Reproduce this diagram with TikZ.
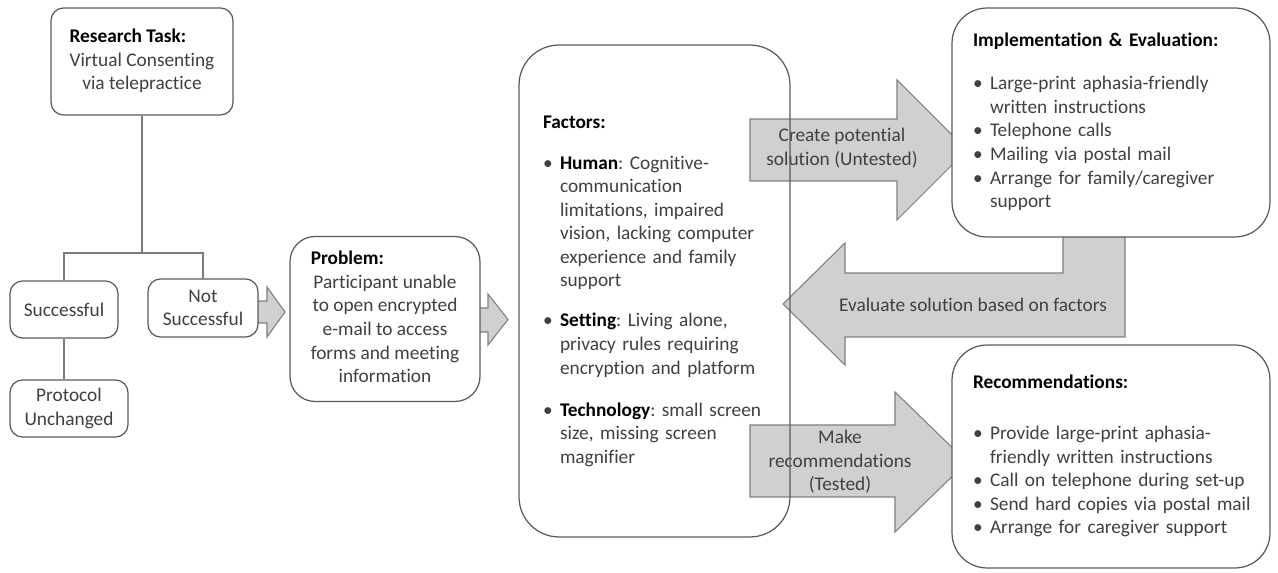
\documentclass[tikz,border=0pt]{standalone}
\usepackage{fontspec}
\setmainfont{Carlito}[Ligatures=NoCommon]
\usetikzlibrary{positioning}
\frenchspacing

\definecolor{boxline}{HTML}{5A5A5A}
\definecolor{linegray}{HTML}{7A7A7A}
\definecolor{arrowfill}{HTML}{D0D0D0}
\definecolor{arrowline}{HTML}{7F7F7F}
\definecolor{bodytext}{HTML}{404040}

\newcommand{\ttl}[1]{\textcolor{black}{\textbf{#1}}}
\newcommand{\bul}{\makebox[0.34cm][l]{\textbullet}}

\tikzset{
  box/.style={draw=boxline, line width=0.7pt, fill=white, rounded corners=0.25cm, align=center, inner sep=0pt},
  bigarrow/.style={draw=arrowline, line width=0.6pt, fill=arrowfill},
  link/.style={draw=linegray, line width=0.7pt},
}

\begin{document}
\begin{tikzpicture}[x=0.02cm, y=-0.02cm, every node/.style={font=\fontsize{11}{13.4}\selectfont, text=bodytext}]
\useasboundingbox (0,0) rectangle (1278,573);

% block arrows, behind the boxes
\draw[bigarrow](250,301)--(267,301)--(267,287)--(285,312)--(267,337)--(267,323)--(250,323)--cycle;
\draw[bigarrow](470,308)--(488,308)--(488,294)--(508,319.5)--(488,345)--(488,332)--(470,332)--cycle;
\draw[bigarrow](750,119)--(897,119)--(897,80)--(967,150)--(897,220)--(897,181)--(750,181)--cycle;
\draw[bigarrow](750,425)--(895,425)--(895,392)--(967,462)--(895,532)--(895,497)--(750,497)--cycle;
\draw[bigarrow](1063,225)--(1063,273)--(845,273)--(845,243)--(783,304)--(845,365)--(845,337)--(1125,337)--(1125,225)--cycle;

\node[align=center] (createtxt) at (842,148) {Create potential\\solution (Untested)};
\node[align=center] (maketxt) at (840,462) {Make\\recommendations\\(Tested)};
\node (evaltxt) at (973,305) {Evaluate solution based on factors};

% boxes
\node[box, minimum width=3.64cm, minimum height=2.14cm] (task) at (142,61.5) {\begin{tabular}{@{}c@{}}
\multicolumn{1}{@{}l@{}}{\ttl{Research Task:}}\\
Virtual Consenting\\
via telepractice
\end{tabular}};

\node[box, minimum width=2.16cm, minimum height=1.14cm] (success) at (64,309.5) {Successful};
\node[box, minimum width=2.2cm, minimum height=1.16cm] (fail) at (203,308) {Not\\Successful};
\node[box, minimum width=2.36cm, minimum height=1.14cm] (unchanged) at (69,408.5) {Protocol\\Unchanged};

\node[box, rounded corners=0.5cm, minimum width=3.8cm, minimum height=3.3cm] (problem) at (385,319) {\begin{tabular}{@{}c@{}}
\multicolumn{1}{@{}l@{}}{\ttl{Problem:}}\\
Participant unable\\
to open encrypted\\
e-mail to access\\
forms and meeting\\
information
\end{tabular}};

\node[box, fill=none, rounded corners=0.8cm, minimum width=5.42cm, minimum height=9.84cm, text width=4.46cm, align=left] (factors) at (654.5,291) {\begin{tabular}{@{}l@{}l@{}}
\multicolumn{2}{@{}l@{}}{\ttl{Factors:}}\\[0.35cm]
\bul & \ttl{Human}: Cognitive-\\
 & communication\\
 & limitations, impaired\\
 & vision, lacking computer\\
 & experience and family\\
 & support\\[0.33cm]
\bul & \ttl{Setting}: Living alone,\\
 & privacy rules requiring\\
 & encryption and platform\\[0.37cm]
\bul & \ttl{Technology}: small screen\\
 & size, missing screen\\
 & magnifier
\end{tabular}};

\node[box, rounded corners=0.7cm, minimum width=6.36cm, minimum height=4.58cm, text width=5.52cm, align=left] (impl) at (1111,122.5) {\begin{tabular}{@{}l@{}l@{}}
\multicolumn{2}{@{}l@{}}{\ttl{Implementation \& Evaluation:}}\\[0.39cm]
\bul & Large-print aphasia-friendly\\
 & written instructions\\
\bul & Telephone calls\\
\bul & Mailing via postal mail\\
\bul & Arrange for family/caregiver\\
 & support
\end{tabular}};

\node[box, rounded corners=0.7cm, minimum width=6.36cm, minimum height=4.46cm, text width=5.52cm, align=left] (recom) at (1111,456.5) {\begin{tabular}{@{}l@{}l@{}}
\multicolumn{2}{@{}l@{}}{\ttl{Recommendations:}}\\[0.55cm]
\bul & Provide large-print aphasia-\\
 & friendly written instructions\\
\bul & Call on telephone during set-up\\
\bul & Send hard copies via postal mail\\
\bul & Arrange for caregiver support
\end{tabular}};

% tree lines
\coordinate (split) at (142,253);
\draw[link] (task.south) -- (split);
\draw[link] (success.north) |- (split) -| (fail.north);
\draw[link] (success.south) -- (success.south |- unchanged.north);

\end{tikzpicture}
\end{document}
